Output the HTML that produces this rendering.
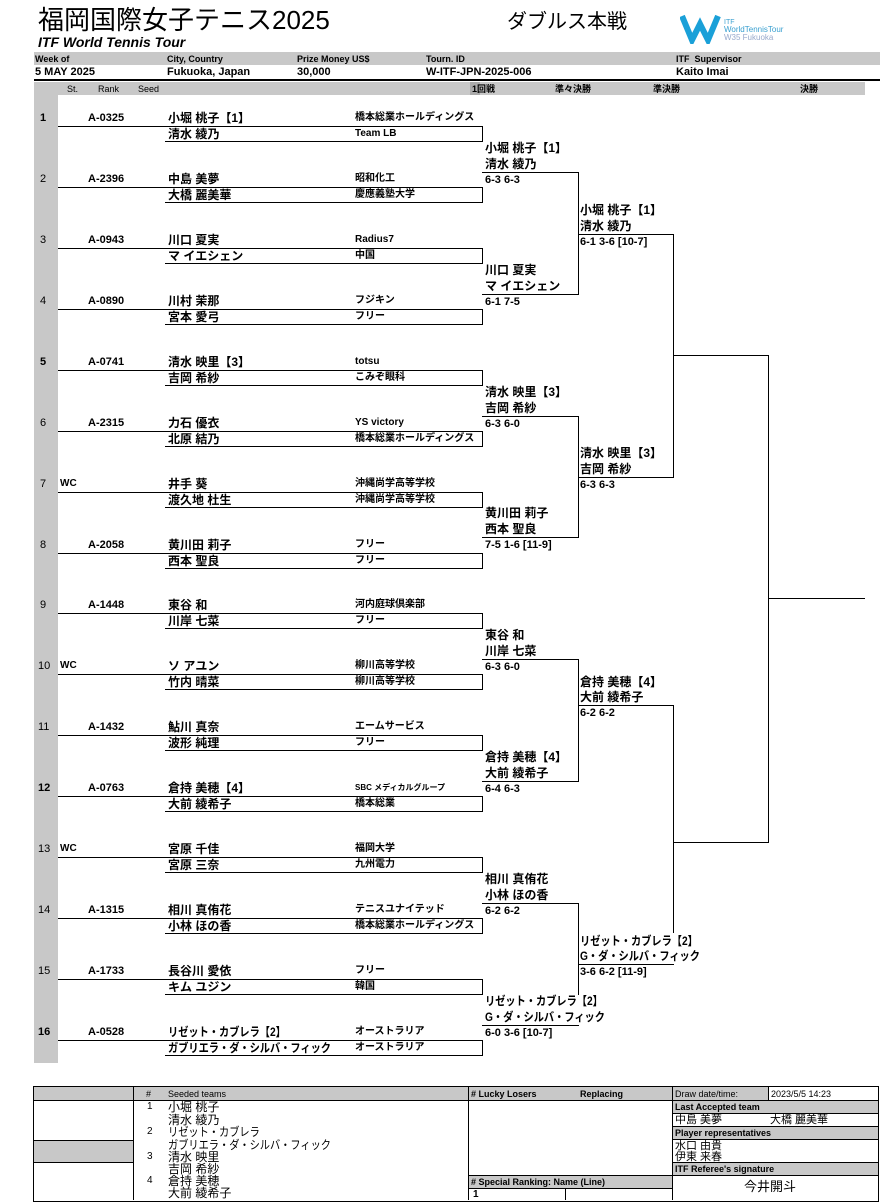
<!DOCTYPE html>
<html><head><meta charset="utf-8"><style>
body{margin:0;width:885px;height:1200px;background:#fff;position:relative;overflow:hidden;font-family:"Liberation Sans","Noto Sans CJK JP",sans-serif;color:#000}
.t{position:absolute;line-height:14px;white-space:nowrap}
.n{font-size:12px;font-weight:bold}
.c{font-size:10px;font-weight:bold}
.s{font-size:11px;font-weight:bold}
.k{transform:scaleX(.85);transform-origin:left center}
.h{position:absolute;height:0;border-top:1.5px solid #000}
.v{position:absolute;width:0;border-left:1.5px solid #000}
.g{position:absolute;background:#c8c8c8}
.b{position:absolute;border:1px solid #000;box-sizing:border-box}
</style></head><body>
<div class="t" style="left:38px;top:4px;font-size:26px;line-height:32px">福岡国際女子テニス2025</div>
<div class="t" style="left:38px;top:35px;font-size:14px;font-weight:bold;font-style:italic">ITF World Tennis Tour</div>
<div class="t" style="left:507px;top:10px;font-size:20px;line-height:24px">ダブルス本戦</div>
<svg style="position:absolute;left:680px;top:12px" width="130" height="32"><path d="M2 4 L12 28 L20 12 L28 28 L38 4" fill="none" stroke="#1aa0d8" stroke-width="6"/><text x="44" y="12" font-size="7" fill="#3aa0d0" font-family="Liberation Sans">ITF</text><text x="44" y="20" font-size="8" fill="#3aa0d0" font-family="Liberation Sans">WorldTennisTour</text><text x="44" y="28" font-size="8" fill="#9ac" font-family="Liberation Sans">W35 Fukuoka</text></svg>

<div class="g" style="left:34px;top:52px;width:846px;height:13px"></div>
<div class="t" style="left:35px;top:52px;font-size:9px;font-weight:bold">Week of</div>
<div class="t" style="left:167px;top:52px;font-size:9px;font-weight:bold">City, Country</div>
<div class="t" style="left:297px;top:52px;font-size:9px;font-weight:bold">Prize Money US$</div>
<div class="t" style="left:426px;top:52px;font-size:9px;font-weight:bold">Tourn. ID</div>
<div class="t" style="left:676px;top:52px;font-size:9px;font-weight:bold">ITF&nbsp; Supervisor</div>
<div class="t" style="left:35px;top:65px;font-size:11px;font-weight:bold">5 MAY 2025</div>
<div class="t" style="left:167px;top:65px;font-size:11px;font-weight:bold">Fukuoka, Japan</div>
<div class="t" style="left:297px;top:65px;font-size:11px;font-weight:bold">30,000</div>
<div class="t" style="left:426px;top:65px;font-size:11px;font-weight:bold">W-ITF-JPN-2025-006</div>
<div class="t" style="left:676px;top:65px;font-size:11px;font-weight:bold">Kaito Imai</div>
<div class="h" style="left:34px;top:79px;width:846px;border-top-width:2px"></div>
<div class="g" style="left:34px;top:82px;width:831px;height:13px"></div>
<div class="g" style="left:34px;top:95px;width:24px;height:968px"></div>
<div class="g" style="left:470px;top:82px;width:10px;height:13px;background:#aaa"></div>
<div class="t" style="left:67px;top:82px;font-size:9px">St.</div>
<div class="t" style="left:98px;top:82px;font-size:9px">Rank</div>
<div class="t" style="left:138px;top:82px;font-size:9px">Seed</div>
<div class="t" style="left:472px;top:82px;font-size:9px;font-weight:bold">1回戦</div>
<div class="t" style="left:555px;top:82px;font-size:9px;font-weight:bold">準々決勝</div>
<div class="t" style="left:653px;top:82px;font-size:9px;font-weight:bold">準決勝</div>
<div class="t" style="left:800px;top:82px;font-size:9px;font-weight:bold">決勝</div>

<div class="t s" style="left:40px;top:111px">1</div><div class="t s" style="left:88px;top:111px">A-0325</div><div class="t n" style="left:168px;top:111px">小堀 桃子【1】</div><div class="t c" style="left:355px;top:111px">橋本総業ホールディングス</div><div class="t n" style="left:168px;top:127px">清水 綾乃</div><div class="t c" style="left:355px;top:127px">Team LB</div>
<div class="h" style="left:58px;top:126px;width:425px"></div><div class="h" style="left:165px;top:141px;width:318px"></div><div class="v" style="left:482px;top:126px;height:16px"></div>

<div class="t" style="left:40px;top:172px;font-size:11px">2</div><div class="t s" style="left:88px;top:172px">A-2396</div><div class="t n" style="left:168px;top:172px">中島 美夢</div><div class="t c" style="left:355px;top:172px">昭和化工</div><div class="t n" style="left:168px;top:188px">大橋 麗美華</div><div class="t c" style="left:355px;top:188px">慶應義塾大学</div>
<div class="h" style="left:58px;top:187px;width:425px"></div><div class="h" style="left:165px;top:202px;width:318px"></div><div class="v" style="left:482px;top:187px;height:16px"></div>

<div class="t" style="left:40px;top:233px;font-size:11px">3</div><div class="t s" style="left:88px;top:233px">A-0943</div><div class="t n" style="left:168px;top:233px">川口 夏実</div><div class="t c" style="left:355px;top:233px">Radius7</div><div class="t n" style="left:168px;top:249px">マ イエシェン</div><div class="t c" style="left:355px;top:249px">中国</div>
<div class="h" style="left:58px;top:248px;width:425px"></div><div class="h" style="left:165px;top:263px;width:318px"></div><div class="v" style="left:482px;top:248px;height:16px"></div>

<div class="t" style="left:40px;top:294px;font-size:11px">4</div><div class="t s" style="left:88px;top:294px">A-0890</div><div class="t n" style="left:168px;top:294px">川村 茉那</div><div class="t c" style="left:355px;top:294px">フジキン</div><div class="t n" style="left:168px;top:310px">宮本 愛弓</div><div class="t c" style="left:355px;top:310px">フリー</div>
<div class="h" style="left:58px;top:309px;width:425px"></div><div class="h" style="left:165px;top:324px;width:318px"></div><div class="v" style="left:482px;top:309px;height:16px"></div>

<div class="t s" style="left:40px;top:355px">5</div><div class="t s" style="left:88px;top:355px">A-0741</div><div class="t n" style="left:168px;top:355px">清水 映里【3】</div><div class="t c" style="left:355px;top:355px">totsu</div><div class="t n" style="left:168px;top:371px">吉岡 希紗</div><div class="t c" style="left:355px;top:371px">こみぞ眼科</div>
<div class="h" style="left:58px;top:370px;width:425px"></div><div class="h" style="left:165px;top:385px;width:318px"></div><div class="v" style="left:482px;top:370px;height:16px"></div>

<div class="t" style="left:40px;top:416px;font-size:11px">6</div><div class="t s" style="left:88px;top:416px">A-2315</div><div class="t n" style="left:168px;top:416px">力石 優衣</div><div class="t c" style="left:355px;top:416px">YS victory</div><div class="t n" style="left:168px;top:432px">北原 結乃</div><div class="t c" style="left:355px;top:432px">橋本総業ホールディングス</div>
<div class="h" style="left:58px;top:431px;width:425px"></div><div class="h" style="left:165px;top:446px;width:318px"></div><div class="v" style="left:482px;top:431px;height:16px"></div>

<div class="t" style="left:40px;top:477px;font-size:11px">7</div><div class="t c" style="left:60px;top:477px">WC</div><div class="t n" style="left:168px;top:477px">井手 葵</div><div class="t c" style="left:355px;top:477px">沖縄尚学高等学校</div><div class="t n" style="left:168px;top:493px">渡久地 杜生</div><div class="t c" style="left:355px;top:493px">沖縄尚学高等学校</div>
<div class="h" style="left:58px;top:492px;width:425px"></div><div class="h" style="left:165px;top:507px;width:318px"></div><div class="v" style="left:482px;top:492px;height:16px"></div>

<div class="t" style="left:40px;top:538px;font-size:11px">8</div><div class="t s" style="left:88px;top:538px">A-2058</div><div class="t n" style="left:168px;top:538px">黄川田 莉子</div><div class="t c" style="left:355px;top:538px">フリー</div><div class="t n" style="left:168px;top:554px">西本 聖良</div><div class="t c" style="left:355px;top:554px">フリー</div>
<div class="h" style="left:58px;top:553px;width:425px"></div><div class="h" style="left:165px;top:568px;width:318px"></div><div class="v" style="left:482px;top:553px;height:16px"></div>

<div class="t" style="left:40px;top:598px;font-size:11px">9</div><div class="t s" style="left:88px;top:598px">A-1448</div><div class="t n" style="left:168px;top:598px">東谷 和</div><div class="t c" style="left:355px;top:598px">河内庭球倶楽部</div><div class="t n" style="left:168px;top:614px">川岸 七菜</div><div class="t c" style="left:355px;top:614px">フリー</div>
<div class="h" style="left:58px;top:613px;width:425px"></div><div class="h" style="left:165px;top:628px;width:318px"></div><div class="v" style="left:482px;top:613px;height:16px"></div>

<div class="t" style="left:38px;top:659px;font-size:11px">10</div><div class="t c" style="left:60px;top:659px">WC</div><div class="t n" style="left:168px;top:659px">ソ アユン</div><div class="t c" style="left:355px;top:659px">柳川高等学校</div><div class="t n" style="left:168px;top:675px">竹内 晴菜</div><div class="t c" style="left:355px;top:675px">柳川高等学校</div>
<div class="h" style="left:58px;top:674px;width:425px"></div><div class="h" style="left:165px;top:689px;width:318px"></div><div class="v" style="left:482px;top:674px;height:16px"></div>

<div class="t" style="left:38px;top:720px;font-size:11px">11</div><div class="t s" style="left:88px;top:720px">A-1432</div><div class="t n" style="left:168px;top:720px">鮎川 真奈</div><div class="t c" style="left:355px;top:720px">エームサービス</div><div class="t n" style="left:168px;top:736px">波形 純理</div><div class="t c" style="left:355px;top:736px">フリー</div>
<div class="h" style="left:58px;top:735px;width:425px"></div><div class="h" style="left:165px;top:750px;width:318px"></div><div class="v" style="left:482px;top:735px;height:16px"></div>

<div class="t s" style="left:38px;top:781px">12</div><div class="t s" style="left:88px;top:781px">A-0763</div><div class="t n" style="left:168px;top:781px">倉持 美穂【4】</div><div class="t" style="left:355px;top:781px;font-size:8px;font-weight:bold">SBC メディカルグループ</div><div class="t n" style="left:168px;top:797px">大前 綾希子</div><div class="t c" style="left:355px;top:797px">橋本総業</div>
<div class="h" style="left:58px;top:796px;width:425px"></div><div class="h" style="left:165px;top:811px;width:318px"></div><div class="v" style="left:482px;top:796px;height:16px"></div>

<div class="t" style="left:38px;top:842px;font-size:11px">13</div><div class="t c" style="left:60px;top:842px">WC</div><div class="t n" style="left:168px;top:842px">宮原 千佳</div><div class="t c" style="left:355px;top:842px">福岡大学</div><div class="t n" style="left:168px;top:858px">宮原 三奈</div><div class="t c" style="left:355px;top:858px">九州電力</div>
<div class="h" style="left:58px;top:857px;width:425px"></div><div class="h" style="left:165px;top:872px;width:318px"></div><div class="v" style="left:482px;top:857px;height:16px"></div>

<div class="t" style="left:38px;top:903px;font-size:11px">14</div><div class="t s" style="left:88px;top:903px">A-1315</div><div class="t n" style="left:168px;top:903px">相川 真侑花</div><div class="t c" style="left:355px;top:903px">テニスユナイテッド</div><div class="t n" style="left:168px;top:919px">小林 ほの香</div><div class="t c" style="left:355px;top:919px">橋本総業ホールディングス</div>
<div class="h" style="left:58px;top:918px;width:425px"></div><div class="h" style="left:165px;top:933px;width:318px"></div><div class="v" style="left:482px;top:918px;height:16px"></div>

<div class="t" style="left:38px;top:964px;font-size:11px">15</div><div class="t s" style="left:88px;top:964px">A-1733</div><div class="t n" style="left:168px;top:964px">長谷川 愛依</div><div class="t c" style="left:355px;top:964px">フリー</div><div class="t n" style="left:168px;top:980px">キム ユジン</div><div class="t c" style="left:355px;top:980px">韓国</div>
<div class="h" style="left:58px;top:979px;width:425px"></div><div class="h" style="left:165px;top:994px;width:318px"></div><div class="v" style="left:482px;top:979px;height:16px"></div>

<div class="t s" style="left:38px;top:1025px">16</div><div class="t s" style="left:88px;top:1025px">A-0528</div><div class="t n k" style="left:168px;top:1025px">リゼット・カブレラ【2】</div><div class="t c" style="left:355px;top:1025px">オーストラリア</div><div class="t n k" style="left:168px;top:1041px">ガブリエラ・ダ・シルバ・フィック</div><div class="t c" style="left:355px;top:1041px">オーストラリア</div>
<div class="h" style="left:58px;top:1040px;width:425px"></div><div class="h" style="left:165px;top:1055px;width:318px"></div><div class="v" style="left:482px;top:1040px;height:16px"></div>

<div class="t n" style="left:485px;top:141px">小堀 桃子【1】</div><div class="t n" style="left:485px;top:157px">清水 綾乃</div><div class="t s" style="left:485px;top:173px">6-3 6-3</div><div class="h" style="left:482px;top:172px;width:97px"></div>
<div class="t n" style="left:485px;top:263px">川口 夏実</div><div class="t n" style="left:485px;top:279px">マ イエシェン</div><div class="t s" style="left:485px;top:295px">6-1 7-5</div><div class="h" style="left:482px;top:294px;width:97px"></div>
<div class="t n" style="left:485px;top:385px">清水 映里【3】</div><div class="t n" style="left:485px;top:401px">吉岡 希紗</div><div class="t s" style="left:485px;top:417px">6-3 6-0</div><div class="h" style="left:482px;top:416px;width:97px"></div>
<div class="t n" style="left:485px;top:506px">黄川田 莉子</div><div class="t n" style="left:485px;top:522px">西本 聖良</div><div class="t s" style="left:485px;top:538px">7-5 1-6 [11-9]</div><div class="h" style="left:482px;top:537px;width:97px"></div>
<div class="t n" style="left:485px;top:628px">東谷 和</div><div class="t n" style="left:485px;top:644px">川岸 七菜</div><div class="t s" style="left:485px;top:660px">6-3 6-0</div><div class="h" style="left:482px;top:659px;width:97px"></div>
<div class="t n" style="left:485px;top:750px">倉持 美穂【4】</div><div class="t n" style="left:485px;top:766px">大前 綾希子</div><div class="t s" style="left:485px;top:782px">6-4 6-3</div><div class="h" style="left:482px;top:781px;width:97px"></div>
<div class="t n" style="left:485px;top:872px">相川 真侑花</div><div class="t n" style="left:485px;top:888px">小林 ほの香</div><div class="t s" style="left:485px;top:904px">6-2 6-2</div><div class="h" style="left:482px;top:903px;width:97px"></div>
<div class="t n k" style="left:485px;top:994px">リゼット・カブレラ【2】</div><div class="t n k" style="left:485px;top:1010px">G・ダ・シルバ・フィック</div><div class="t s" style="left:485px;top:1026px">6-0 3-6 [10-7]</div><div class="h" style="left:482px;top:1025px;width:97px"></div>
<div class="v" style="left:578px;top:172px;height:123px"></div>
<div class="v" style="left:578px;top:416px;height:122px"></div>
<div class="v" style="left:578px;top:659px;height:123px"></div>
<div class="v" style="left:578px;top:903px;height:92px"></div>

<div class="t n" style="left:580px;top:203px">小堀 桃子【1】</div><div class="t n" style="left:580px;top:219px">清水 綾乃</div><div class="t s" style="left:580px;top:235px">6-1 3-6 [10-7]</div><div class="h" style="left:578px;top:234px;width:96px"></div>
<div class="t n" style="left:580px;top:446px">清水 映里【3】</div><div class="t n" style="left:580px;top:462px">吉岡 希紗</div><div class="t s" style="left:580px;top:478px">6-3 6-3</div><div class="h" style="left:578px;top:477px;width:96px"></div>
<div class="t n" style="left:580px;top:675px">倉持 美穂【4】</div><div class="t n" style="left:580px;top:690px">大前 綾希子</div><div class="t s" style="left:580px;top:706px">6-2 6-2</div><div class="h" style="left:578px;top:705px;width:96px"></div>
<div class="t n k" style="left:580px;top:934px">リゼット・カブレラ【2】</div><div class="t n k" style="left:580px;top:949px">G・ダ・シルバ・フィック</div><div class="t s" style="left:580px;top:965px">3-6 6-2 [11-9]</div><div class="h" style="left:578px;top:964px;width:96px"></div>
<div class="v" style="left:673px;top:234px;height:244px"></div>
<div class="v" style="left:673px;top:705px;height:228px"></div>
<div class="h" style="left:673px;top:355px;width:96px"></div>
<div class="h" style="left:673px;top:842px;width:96px"></div>
<div class="v" style="left:768px;top:355px;height:488px"></div>
<div class="h" style="left:768px;top:598px;width:97px"></div>

<div class="b" style="left:33px;top:1086px;width:846px;height:116px"></div>
<div class="g" style="left:34px;top:1087px;width:734px;height:13px"></div>
<div class="g" style="left:34px;top:1140px;width:99px;height:22px"></div>
<div class="g" style="left:468px;top:1175px;width:204px;height:13px"></div>
<div class="g" style="left:672px;top:1100px;width:206px;height:13px"></div>
<div class="g" style="left:672px;top:1126px;width:206px;height:13px"></div>
<div class="g" style="left:672px;top:1162px;width:206px;height:13px"></div>
<div class="v" style="left:133px;top:1086px;height:114px;border-left-width:1px"></div>
<div class="v" style="left:468px;top:1086px;height:114px;border-left-width:1px"></div>
<div class="v" style="left:672px;top:1086px;height:114px;border-left-width:1px"></div>
<div class="v" style="left:768px;top:1086px;height:14px;border-left-width:1px"></div>
<div class="v" style="left:565px;top:1188px;height:12px;border-left-width:1px"></div>
<div class="h" style="left:33px;top:1100px;width:846px;border-top-width:1px"></div>
<div class="h" style="left:33px;top:1140px;width:100px;border-top-width:1px"></div>
<div class="h" style="left:33px;top:1162px;width:100px;border-top-width:1px"></div>
<div class="h" style="left:468px;top:1175px;width:410px;border-top-width:1px"></div>
<div class="h" style="left:468px;top:1188px;width:204px;border-top-width:1px"></div>
<div class="h" style="left:672px;top:1113px;width:206px;border-top-width:1px"></div>
<div class="h" style="left:672px;top:1126px;width:206px;border-top-width:1px"></div>
<div class="h" style="left:672px;top:1139px;width:206px;border-top-width:1px"></div>
<div class="h" style="left:672px;top:1162px;width:206px;border-top-width:1px"></div>
<div class="t" style="left:146px;top:1087px;font-size:9px">#</div>
<div class="t" style="left:168px;top:1087px;font-size:9px">Seeded teams</div>
<div class="t" style="left:471px;top:1087px;font-size:9px;font-weight:bold"># Lucky Losers</div>
<div class="t" style="left:580px;top:1087px;font-size:9px;font-weight:bold">Replacing</div>
<div class="t" style="left:675px;top:1087px;font-size:9px">Draw date/time:</div>
<div class="t" style="left:771px;top:1087px;font-size:9px">2023/5/5 14:23</div>
<div class="t" style="left:147px;top:1100px;font-size:10px">1</div><div class="t" style="left:168px;top:1100px;font-size:12px">小堀 桃子</div>
<div class="t" style="left:168px;top:1113px;font-size:12px">清水 綾乃</div>
<div class="t" style="left:147px;top:1125px;font-size:10px">2</div><div class="t k" style="left:168px;top:1125px;font-size:12px">リゼット・カブレラ</div>
<div class="t k" style="left:168px;top:1138px;font-size:12px">ガブリエラ・ダ・シルバ・フィック</div>
<div class="t" style="left:147px;top:1150px;font-size:10px">3</div><div class="t" style="left:168px;top:1150px;font-size:12px">清水 映里</div>
<div class="t" style="left:168px;top:1162px;font-size:12px">吉岡 希紗</div>
<div class="t" style="left:147px;top:1174px;font-size:10px">4</div><div class="t" style="left:168px;top:1174px;font-size:12px">倉持 美穂</div>
<div class="t" style="left:168px;top:1186px;font-size:12px">大前 綾希子</div>
<div class="t" style="left:675px;top:1100px;font-size:9px;font-weight:bold">Last Accepted team</div>
<div class="t" style="left:675px;top:1113px;font-size:11px">中島 美夢</div>
<div class="t" style="left:770px;top:1113px;font-size:11px">大橋 麗美華</div>
<div class="t" style="left:675px;top:1126px;font-size:9px;font-weight:bold">Player representatives</div>
<div class="t" style="left:675px;top:1139px;font-size:11px">水口 由貴</div>
<div class="t" style="left:675px;top:1150px;font-size:11px">伊東 来春</div>
<div class="t" style="left:675px;top:1162px;font-size:9px;font-weight:bold">ITF Referee's signature</div>
<div class="t" style="left:744px;top:1180px;font-size:13px">今井開斗</div>
<div class="t" style="left:471px;top:1175px;font-size:9px;font-weight:bold"># Special Ranking: Name (Line)</div>
<div class="t" style="left:473px;top:1188px;font-size:10px;font-weight:bold">1</div>
</body></html>
